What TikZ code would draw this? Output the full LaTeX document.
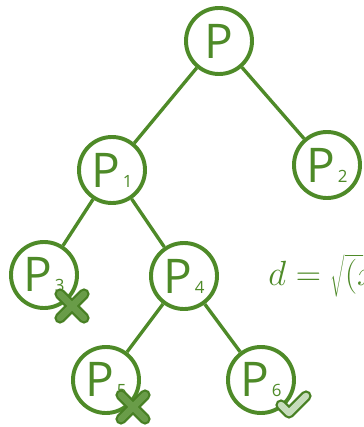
\documentclass[tikz,border=0pt]{standalone}
\usepackage{fontspec}
\setsansfont{Open Sans}
\usepackage{xcolor}
\usepackage{tikz}
\definecolor{hijau}{RGB}{78,138,40}
\definecolor{hijautua}{RGB}{72,128,36}
\definecolor{hijaumuda}{RGB}{198,220,188}
\newcommand{\titik}[1]{P\kern2pt{\fontsize{12}{12}\selectfont #1}}
\tikzset{
  simpul/.style={circle, draw=hijau, fill=white, line width=2.8pt,
    minimum size=1.65cm, inner sep=0pt, text=hijau,
    font=\sffamily\fontsize{34}{34}\selectfont},
  sisi/.style={line width=2.4pt, hijau},
  tandaluar/.style={line width=8pt, line cap=round, line join=round, hijautua},
  silang/.style={line width=4.6pt, line cap=round, hijau!85!white},
  centang/.style={line width=4.6pt, line cap=round, line join=round, hijaumuda}
}

\begin{document}
\begin{tikzpicture}[x=0.025cm, y=-0.025cm]
  \clip (0,0) rectangle (363,427);
  % pohon
  \node[simpul] (p)  at (219,41)  {P};
  \node[simpul] (p1) at (112,170) {\titik{1}};
  \node[simpul] (p2) at (327,165) {\titik{2}};
  \node[simpul] (p3) at (44,275)  {\titik{3}};
  \node[simpul] (p4) at (184,276) {\titik{4}};
  \node[simpul] (p5) at (106,380) {\titik{5}};
  \node[simpul] (p6) at (261,380) {\titik{6}};
  \draw[sisi] (p) -- (p1);
  \draw[sisi] (p) -- (p2);
  \draw[sisi] (p1) -- (p3);
  \draw[sisi] (p1) -- (p4);
  \draw[sisi] (p4) -- (p5);
  \draw[sisi] (p4) -- (p6);
  % tanda
  \draw[tandaluar] (60,294) -- (84,318) (60,318) -- (84,294);
  \draw[silang] (60,294) -- (84,318) (60,318) -- (84,294);
  \draw[tandaluar] (121,395) -- (145,419) (121,419) -- (145,395);
  \draw[silang] (121,395) -- (145,419) (121,419) -- (145,395);
  \draw[tandaluar] (281,405) -- (289,413) -- (306,396);
  \draw[centang] (281,405) -- (289,413) -- (306,396);
  % rumus
  \node[anchor=base west, inner sep=0pt, text=hijau, font=\fontsize{27}{30}\selectfont]
    (rumus) at (268,285) {$d = \sqrt{(x_1-x_2)^2+(y_1-y_2)^2}$};
\end{tikzpicture}
\end{document}
